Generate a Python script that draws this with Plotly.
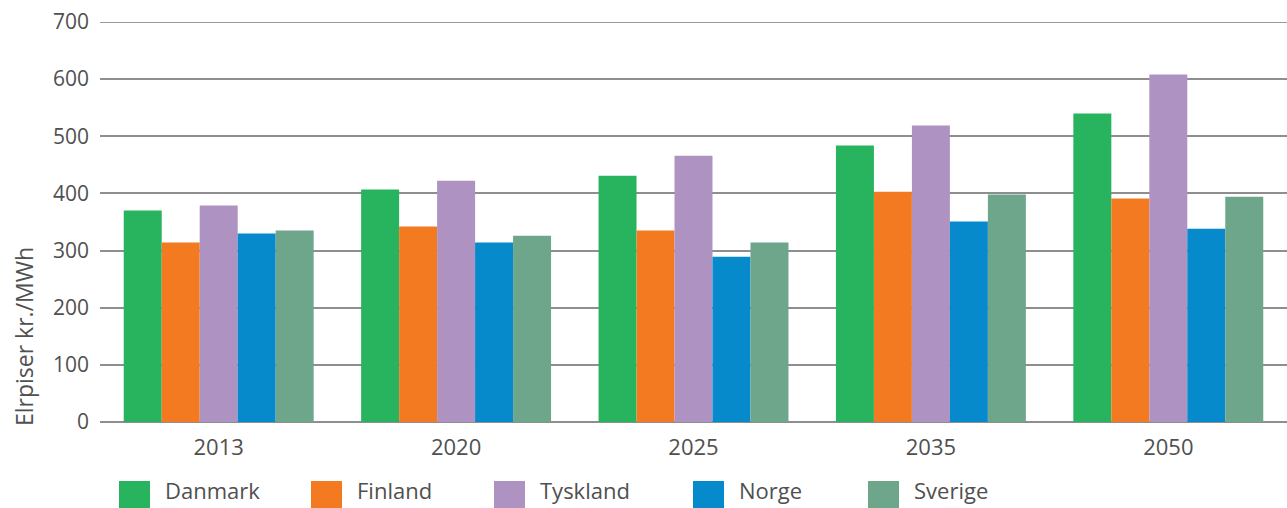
import plotly.graph_objects as go

# Electricity price scenarios (kr./MWh) per year and country
years = ["2013", "2020", "2025", "2035", "2050"]
countries = ["Danmark", "Finland", "Tyskland", "Norge", "Sverige"]
danmark = [370, 407, 431, 484, 540]
finland = [314, 342, 335, 403, 391]
tyskland = [379, 422, 466, 519, 608]
norge = [330, 314, 289, 351, 338]
sverige = [335, 326, 314, 398, 394]
colors = ["#28B35E", "#F47A22", "#AE92C2", "#068ACC", "#6EA68C"]
y_ticks = [0, 100, 200, 300, 400, 500, 600, 700]

series = [danmark, finland, tyskland, norge, sverige]

W, H = 1287, 508
L, R, T, B = 100, 0, 22, 86
plot_w = W - L - R
plot_h = H - T - B

TEXT = "#505050"
GRID = "#8e8e8e"
FONT = "Open Sans"


def px_x(px):
    return (px - L) / plot_w


def px_y(py):
    return (T + plot_h - py) / plot_h


fig = go.Figure()
for name, vals, col in zip(countries, series, colors):
    fig.add_trace(go.Bar(x=years, y=vals, name=name, marker=dict(color=col, line=dict(width=0)),
                         showlegend=False))

# Top gridline at the upper end of the value range
fig.add_shape(type="line", xref="paper", yref="y", x0=0, x1=1, y0=700, y1=700,
              line=dict(color="#7a7a7a", width=1.5))

# Legend drawn as large swatches with labels underneath the plot
leg_x = [119, 311, 494, 693, 868]
for name, col, px in zip(countries, colors, leg_x):
    fig.add_shape(type="rect", xref="paper", yref="paper",
                  x0=px_x(px), x1=px_x(px + 31), y0=px_y(481), y1=px_y(508),
                  fillcolor=col, line=dict(width=0))
    fig.add_annotation(xref="paper", yref="paper", x=px_x(px + 44), y=px_y(507),
                       text=name, showarrow=False, xanchor="left", yanchor="bottom",
                       font=dict(family=FONT, size=22, color=TEXT))

# Vertical axis title
fig.add_annotation(xref="paper", yref="paper", x=px_x(24), y=px_y(337),
                   text="Elrpiser kr./MWh", textangle=-90, showarrow=False,
                   xanchor="center", yanchor="middle",
                   font=dict(family=FONT, size=23, color=TEXT))

fig.update_layout(
    width=W, height=H,
    margin=dict(l=L, r=R, t=T, b=B, autoexpand=False),
    paper_bgcolor="white", plot_bgcolor="white",
    barmode="group", bargap=0.2, bargroupgap=0,
    xaxis=dict(type="category", showgrid=False, showline=False, ticks="",
               ticklabelstandoff=10,
               tickfont=dict(family=FONT, size=22, color=TEXT)),
    yaxis=dict(range=[0, 700], tickvals=y_ticks, showgrid=True, gridcolor=GRID,
               gridwidth=1.5, zeroline=True, zerolinecolor=GRID, zerolinewidth=1.5,
               showline=False, ticks="", ticklabelstandoff=10,
               tickfont=dict(family=FONT, size=21, color=TEXT)),
)

fig.write_html("out.html")
